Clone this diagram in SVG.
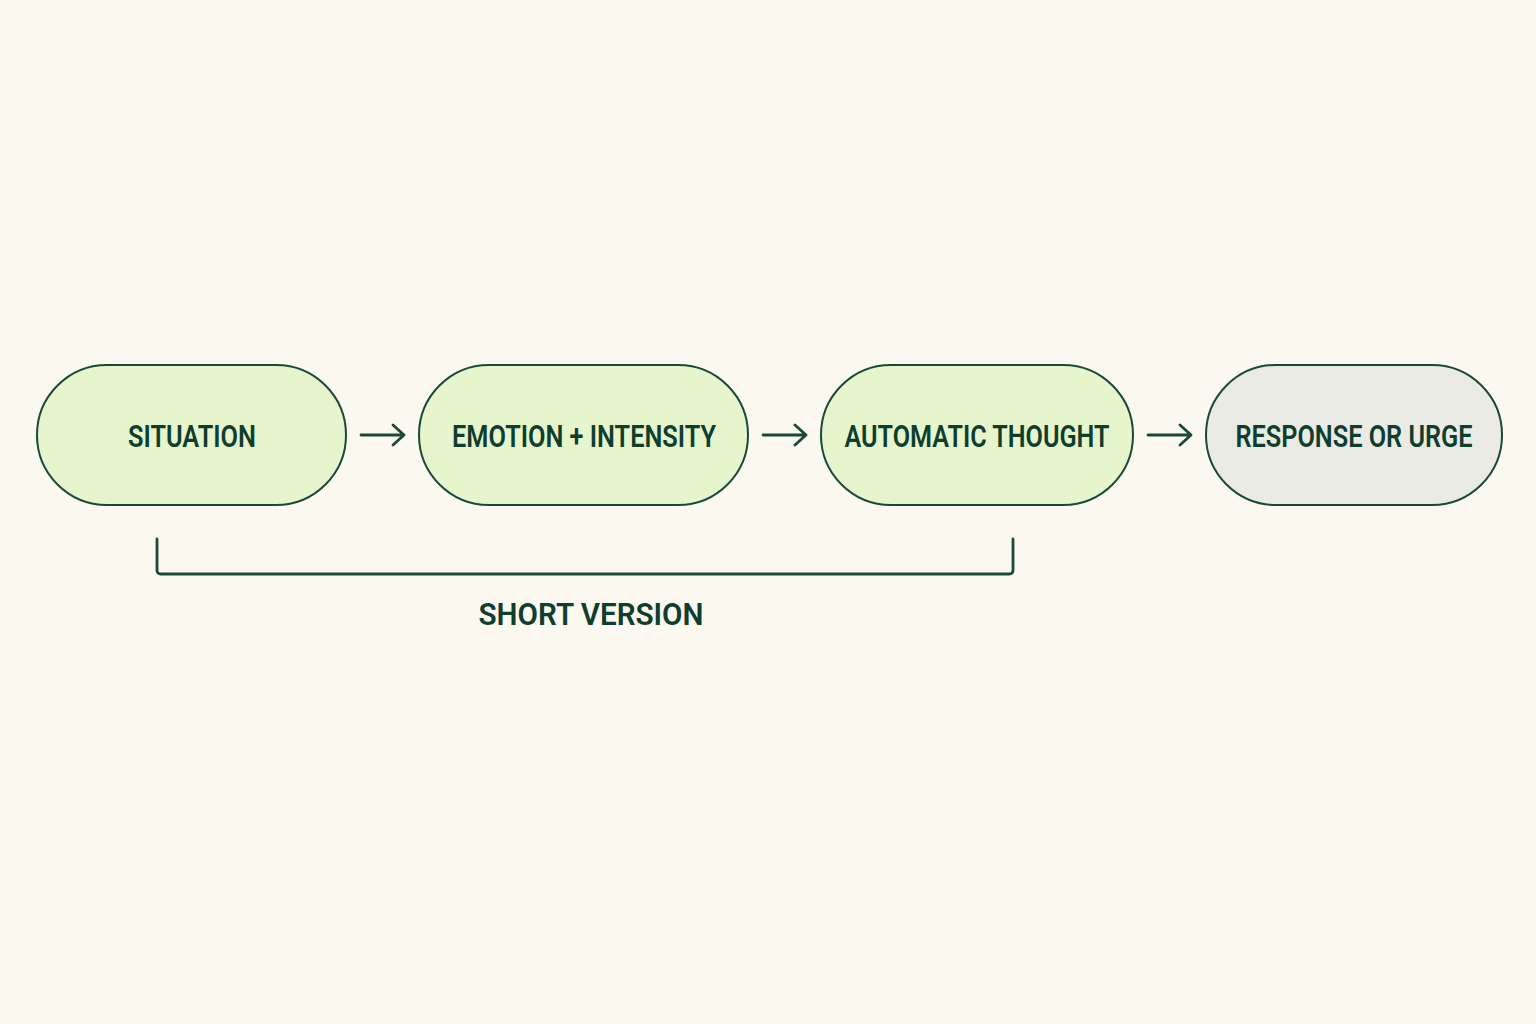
<svg xmlns="http://www.w3.org/2000/svg" width="1536" height="1024" viewBox="0 0 1536 1024">
<defs>
<style>
.node{fill:#e7f5cc;stroke:#1b4939;stroke-width:2}
.grey{fill:#ebebe5;stroke:#1b4939;stroke-width:2}
.lbl{font-family:Roboto,"Liberation Sans",sans-serif;font-weight:600;font-size:31px;fill:#0f3d2e;text-anchor:middle}
.conn{fill:none;stroke:#1b4939;stroke-width:2.8;stroke-linecap:round;stroke-linejoin:round}
</style>
</defs>
<rect width="1536" height="1024" fill="#fbf8f0"/>
<g id="situation">
<rect class="node" x="37" y="365" width="309" height="140" rx="70"/>
<text class="lbl" x="192" y="447" textLength="128" lengthAdjust="spacingAndGlyphs">SITUATION</text>
</g>
<g id="emotion">
<rect class="node" x="419" y="365" width="329" height="140" rx="70"/>
<text class="lbl" x="584" y="447" textLength="264" lengthAdjust="spacingAndGlyphs">EMOTION + INTENSITY</text>
</g>
<g id="thought">
<rect class="node" x="821" y="365" width="312" height="140" rx="70"/>
<text class="lbl" x="977" y="447" textLength="265" lengthAdjust="spacingAndGlyphs">AUTOMATIC THOUGHT</text>
</g>
<g id="response">
<rect class="grey" x="1206" y="365" width="296" height="140" rx="70"/>
<text class="lbl" x="1354" y="447" textLength="237" lengthAdjust="spacingAndGlyphs">RESPONSE OR URGE</text>
</g>
<g id="connectors">
<path class="conn" d="M361 435H404M393 425L404 435L393 445"/>
<path class="conn" d="M763 435H806M795 425L806 435L795 445"/>
<path class="conn" d="M1148 435H1191M1180 425L1191 435L1180 445"/>
<path class="conn" d="M157 539V570Q157 574 161 574H1009Q1013 574 1013 570V539" stroke-width="2.2"/>
</g>
<g id="short-version">
<text class="lbl" x="591" y="625" textLength="225" lengthAdjust="spacingAndGlyphs">SHORT VERSION</text>
</g>
</svg>
